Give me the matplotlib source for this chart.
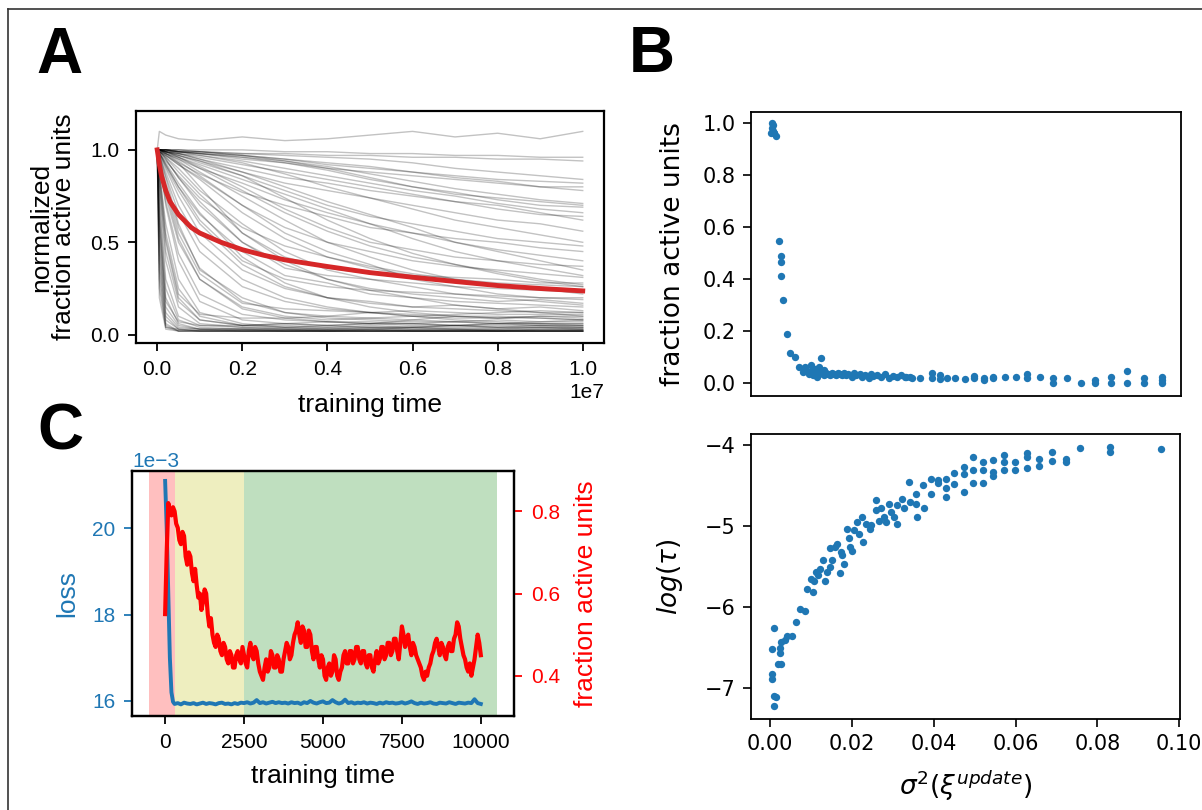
import matplotlib
matplotlib.use('Agg')
import matplotlib.pyplot as plt
from matplotlib.lines import Line2D
import numpy as np

# ---------------- Panel A data ----------------
trace_t = [0, 0.005, 0.02, 0.05, 0.1, 0.2, 0.3, 0.4, 0.5, 0.6, 0.7, 0.8, 0.9, 1.0]  # x 1e7
traces_A = [
    [1.0, 0.35, 0.05, 0.02, 0.02, 0.02, 0.02, 0.02, 0.02, 0.02, 0.02, 0.02, 0.02, 0.02],
    [1.0, 0.55, 0.12, 0.04, 0.03, 0.02, 0.02, 0.02, 0.02, 0.02, 0.02, 0.02, 0.02, 0.02],
    [1.0, 0.70, 0.25, 0.08, 0.04, 0.03, 0.03, 0.02, 0.03, 0.02, 0.02, 0.02, 0.02, 0.02],
    [1.0, 0.80, 0.40, 0.15, 0.06, 0.04, 0.03, 0.03, 0.04, 0.03, 0.03, 0.02, 0.03, 0.03],
    [1.0, 0.90, 0.55, 0.25, 0.10, 0.05, 0.04, 0.05, 0.04, 0.04, 0.05, 0.04, 0.04, 0.04],
    [1.0, 0.95, 0.70, 0.40, 0.18, 0.08, 0.06, 0.05, 0.06, 0.05, 0.05, 0.06, 0.05, 0.05],
    [1.0, 0.20, 0.03, 0.02, 0.02, 0.02, 0.02, 0.02, 0.02, 0.02, 0.02, 0.02, 0.02, 0.02],
    [1.0, 0.45, 0.08, 0.03, 0.02, 0.02, 0.02, 0.02, 0.02, 0.02, 0.02, 0.02, 0.02, 0.02],
    [1.0, 0.85, 0.50, 0.20, 0.08, 0.05, 0.06, 0.07, 0.06, 0.08, 0.07, 0.08, 0.07, 0.08],
    [1.0, 0.92, 0.75, 0.50, 0.30, 0.15, 0.10, 0.08, 0.09, 0.08, 0.10, 0.09, 0.10, 0.10],
    [1.0, 0.97, 0.85, 0.60, 0.35, 0.20, 0.12, 0.10, 0.12, 0.10, 0.11, 0.12, 0.13, 0.12],
    [1.0, 0.60, 0.15, 0.05, 0.03, 0.03, 0.02, 0.02, 0.02, 0.02, 0.02, 0.02, 0.02, 0.02],
    [1.0, 0.98, 0.90, 0.75, 0.55, 0.35, 0.25, 0.20, 0.18, 0.15, 0.16, 0.14, 0.15, 0.13],
    [1.0, 0.99, 0.92, 0.80, 0.65, 0.45, 0.32, 0.28, 0.22, 0.20, 0.18, 0.17, 0.16, 0.15],
    [1.0, 0.97, 0.88, 0.70, 0.50, 0.30, 0.20, 0.15, 0.12, 0.10, 0.08, 0.07, 0.06, 0.06],
    [1.0, 1.00, 0.95, 0.85, 0.70, 0.50, 0.38, 0.30, 0.25, 0.22, 0.20, 0.18, 0.19, 0.17],
    [1.0, 0.99, 0.96, 0.90, 0.78, 0.60, 0.45, 0.35, 0.30, 0.26, 0.22, 0.20, 0.18, 0.16],
    [1.0, 1.00, 0.97, 0.92, 0.85, 0.70, 0.55, 0.45, 0.38, 0.30, 0.26, 0.22, 0.20, 0.19],
    [1.0, 0.98, 0.93, 0.82, 0.66, 0.42, 0.28, 0.20, 0.15, 0.12, 0.10, 0.10, 0.09, 0.08],
    [1.0, 1.00, 0.98, 0.95, 0.88, 0.75, 0.62, 0.50, 0.42, 0.35, 0.30, 0.27, 0.25, 0.22],
    [1.0, 1.00, 0.98, 0.93, 0.80, 0.55, 0.40, 0.30, 0.24, 0.20, 0.16, 0.14, 0.12, 0.10],
    [1.0, 0.99, 0.95, 0.85, 0.72, 0.50, 0.36, 0.32, 0.30, 0.28, 0.26, 0.25, 0.24, 0.23],
    [1.0, 1.00, 1.00, 0.98, 0.95, 0.88, 0.80, 0.72, 0.65, 0.58, 0.50, 0.45, 0.40, 0.35],
    [1.0, 1.00, 0.99, 0.98, 0.96, 0.92, 0.88, 0.84, 0.80, 0.76, 0.72, 0.70, 0.66, 0.62],
    [1.0, 1.00, 1.00, 0.99, 0.98, 0.95, 0.93, 0.90, 0.88, 0.86, 0.84, 0.82, 0.80, 0.78],
    [1.0, 1.00, 0.98, 0.96, 0.92, 0.84, 0.76, 0.68, 0.60, 0.52, 0.45, 0.40, 0.36, 0.32],
    [1.0, 1.00, 0.99, 0.97, 0.93, 0.86, 0.78, 0.70, 0.64, 0.60, 0.56, 0.52, 0.50, 0.48],
    [1.0, 1.00, 1.00, 1.00, 0.99, 0.98, 0.97, 0.96, 0.95, 0.93, 0.90, 0.88, 0.86, 0.84],
    [1.0, 1.00, 1.00, 1.00, 1.00, 1.00, 0.99, 0.99, 0.98, 0.98, 0.97, 0.97, 0.96, 0.96],
    [1.0, 1.00, 0.99, 0.96, 0.90, 0.78, 0.66, 0.56, 0.48, 0.42, 0.38, 0.34, 0.30, 0.27],
    [1.0, 1.00, 1.00, 0.99, 0.97, 0.93, 0.87, 0.80, 0.74, 0.68, 0.62, 0.58, 0.54, 0.50],
    [1.0, 1.00, 1.00, 0.99, 0.98, 0.96, 0.94, 0.90, 0.85, 0.80, 0.76, 0.74, 0.72, 0.70],
    [1.0, 1.00, 0.99, 0.97, 0.94, 0.88, 0.82, 0.78, 0.74, 0.70, 0.66, 0.62, 0.60, 0.56],
    [1.0, 1.00, 1.00, 1.00, 0.99, 0.97, 0.95, 0.92, 0.90, 0.88, 0.85, 0.83, 0.80, 0.80],
    [1.0, 1.10, 1.08, 1.06, 1.05, 1.07, 1.05, 1.06, 1.08, 1.10, 1.07, 1.09, 1.06, 1.10],
    [1.0, 0.30, 0.04, 0.02, 0.02, 0.02, 0.02, 0.02, 0.02, 0.02, 0.02, 0.02, 0.02, 0.02],
    [1.0, 0.65, 0.20, 0.06, 0.03, 0.03, 0.03, 0.03, 0.03, 0.03, 0.03, 0.03, 0.03, 0.03],
    [1.0, 0.88, 0.60, 0.30, 0.12, 0.06, 0.04, 0.03, 0.03, 0.04, 0.03, 0.03, 0.04, 0.03],
    [1.0, 0.75, 0.30, 0.10, 0.05, 0.04, 0.04, 0.04, 0.04, 0.04, 0.04, 0.04, 0.04, 0.04],
    [1.0, 0.50, 0.10, 0.03, 0.02, 0.02, 0.02, 0.02, 0.02, 0.02, 0.02, 0.02, 0.02, 0.02],
    [1.0, 0.98, 0.94, 0.86, 0.74, 0.58, 0.48, 0.42, 0.37, 0.33, 0.30, 0.28, 0.27, 0.26],
    [1.0, 1.00, 0.99, 0.98, 0.95, 0.90, 0.85, 0.82, 0.78, 0.75, 0.72, 0.68, 0.65, 0.64],
    [1.0, 0.96, 0.82, 0.58, 0.36, 0.18, 0.12, 0.09, 0.08, 0.07, 0.07, 0.06, 0.06, 0.05],
    [1.0, 1.00, 1.00, 0.99, 0.99, 0.98, 0.98, 0.97, 0.97, 0.96, 0.96, 0.95, 0.95, 0.94],
    [1.0, 0.99, 0.97, 0.93, 0.87, 0.77, 0.70, 0.64, 0.58, 0.55, 0.52, 0.50, 0.47, 0.45],
    [1.0, 0.98, 0.92, 0.80, 0.62, 0.40, 0.30, 0.26, 0.24, 0.23, 0.22, 0.21, 0.20, 0.20],
    [1.0, 1.00, 0.99, 0.97, 0.94, 0.86, 0.74, 0.62, 0.52, 0.44, 0.38, 0.33, 0.29, 0.26],
    [1.0, 0.99, 0.96, 0.88, 0.76, 0.55, 0.42, 0.36, 0.33, 0.32, 0.31, 0.30, 0.28, 0.28],
    [1.0, 1.00, 1.00, 0.99, 0.98, 0.97, 0.95, 0.93, 0.91, 0.88, 0.86, 0.84, 0.83, 0.82],
    [1.0, 0.99, 0.98, 0.95, 0.90, 0.82, 0.73, 0.66, 0.60, 0.55, 0.50, 0.46, 0.43, 0.40],
    [1.0, 0.97, 0.86, 0.66, 0.45, 0.26, 0.18, 0.14, 0.12, 0.11, 0.10, 0.09, 0.09, 0.08],
    [1.0, 1.00, 0.99, 0.98, 0.97, 0.94, 0.90, 0.86, 0.82, 0.78, 0.75, 0.71, 0.68, 0.66],
    [1.0, 0.94, 0.78, 0.52, 0.30, 0.14, 0.09, 0.07, 0.06, 0.06, 0.05, 0.05, 0.05, 0.05],
    [1.0, 1.00, 0.98, 0.94, 0.86, 0.70, 0.58, 0.50, 0.45, 0.40, 0.37, 0.35, 0.33, 0.31],
    [1.0, 0.99, 0.97, 0.92, 0.84, 0.66, 0.52, 0.42, 0.36, 0.32, 0.29, 0.27, 0.25, 0.24],
    [1.0, 1.00, 1.00, 0.99, 0.99, 0.97, 0.94, 0.91, 0.87, 0.83, 0.79, 0.76, 0.73, 0.71],
    [1.0, 0.40, 0.06, 0.02, 0.02, 0.02, 0.02, 0.02, 0.02, 0.02, 0.02, 0.02, 0.02, 0.02],
    [1.0, 0.82, 0.45, 0.18, 0.08, 0.05, 0.05, 0.04, 0.05, 0.04, 0.05, 0.04, 0.05, 0.04],
    [1.0, 0.93, 0.72, 0.44, 0.22, 0.11, 0.08, 0.07, 0.07, 0.06, 0.07, 0.06, 0.07, 0.07],
    [1.0, 1.00, 0.99, 0.99, 0.98, 0.96, 0.93, 0.89, 0.84, 0.80, 0.77, 0.73, 0.70, 0.69],
    [1.0, 0.98, 0.91, 0.78, 0.60, 0.38, 0.26, 0.20, 0.17, 0.15, 0.14, 0.13, 0.12, 0.12],
    [1.0, 1.00, 0.99, 0.96, 0.91, 0.80, 0.68, 0.58, 0.50, 0.46, 0.42, 0.40, 0.38, 0.37],
    [1.0, 0.25, 0.04, 0.03, 0.03, 0.03, 0.03, 0.03, 0.03, 0.03, 0.03, 0.03, 0.03, 0.03],
    [1.0, 0.62, 0.18, 0.07, 0.05, 0.05, 0.06, 0.05, 0.06, 0.06, 0.05, 0.06, 0.06, 0.06],
    [1.0, 0.86, 0.52, 0.22, 0.11, 0.09, 0.09, 0.10, 0.09, 0.10, 0.09, 0.09, 0.10, 0.09],
    [1.0, 0.96, 0.80, 0.55, 0.33, 0.17, 0.14, 0.13, 0.12, 0.13, 0.12, 0.11, 0.11, 0.11],
]
mean_t = [0, 0.002, 0.005, 0.01, 0.02, 0.03, 0.05, 0.08, 0.1, 0.15, 0.2, 0.25, 0.3,
          0.4, 0.5, 0.6, 0.7, 0.8, 0.9, 1.0]  # x 1e7
mean_v = [1.0, 0.97, 0.92, 0.86, 0.78, 0.72, 0.65, 0.58, 0.55, 0.50, 0.46, 0.43, 0.405,
          0.369, 0.336, 0.311, 0.288, 0.266, 0.250, 0.237]

# ---------------- Panel B data ----------------
b_top_points = [
    (0.0004, 1.0), (0.0006, 0.992), (0.0004, 0.98), (0.0006, 0.97), (0.0001, 0.963),
    (0.0010, 0.963), (0.0013, 0.95), (0.0008, 0.96),
    (0.0022, 0.547), (0.0025, 0.488), (0.0025, 0.466), (0.0025, 0.411), (0.0032, 0.319),
    (0.0041, 0.187), (0.0049, 0.114), (0.0060, 0.101), (0.0070, 0.063), (0.0079, 0.044),
    (0.0123, 0.097),
    (0.0085, 0.060), (0.0090, 0.045), (0.0095, 0.035), (0.0100, 0.070), (0.0102, 0.050),
    (0.0105, 0.030), (0.0110, 0.055), (0.0112, 0.040), (0.0115, 0.025), (0.0120, 0.060),
    (0.0118, 0.035), (0.0125, 0.045), (0.0130, 0.030), (0.0130, 0.050), (0.0135, 0.040),
    (0.0140, 0.035), (0.0145, 0.030), (0.0150, 0.040), (0.0155, 0.035), (0.0160, 0.030),
    (0.0165, 0.040), (0.0170, 0.035), (0.0175, 0.030), (0.0180, 0.038), (0.0185, 0.030),
    (0.0190, 0.033), (0.0200, 0.025), (0.0205, 0.040), (0.0210, 0.030), (0.0220, 0.035),
    (0.0225, 0.025), (0.0230, 0.030), (0.0240, 0.020), (0.0245, 0.035), (0.0250, 0.028),
    (0.0260, 0.030), (0.0270, 0.025), (0.0280, 0.035), (0.0290, 0.020), (0.0300, 0.028),
    (0.0310, 0.025), (0.0320, 0.030), (0.0330, 0.022), (0.0340, 0.025),
    (0.0328, 0.025), (0.0347, 0.020), (0.0366, 0.020), (0.0394, 0.039), (0.0394, 0.018),
    (0.0413, 0.030), (0.0413, 0.015), (0.0431, 0.020), (0.0450, 0.020), (0.0474, 0.015),
    (0.0497, 0.028), (0.0497, 0.020), (0.0521, 0.012), (0.0521, 0.020), (0.0544, 0.025),
    (0.0544, 0.018), (0.0572, 0.025), (0.0599, 0.022), (0.0627, 0.035), (0.0627, 0.020),
    (0.0657, 0.022), (0.0690, 0.020), (0.0690, 0.000), (0.0723, 0.020), (0.0757, 0.000),
    (0.0793, 0.012), (0.0793, 0.000), (0.0831, 0.022), (0.0831, 0.000), (0.0871, 0.048),
    (0.0871, 0.000), (0.0913, 0.020), (0.0913, 0.000), (0.0956, 0.025), (0.0956, 0.000),
    (0.0956, 0.010),
]
b_bot_points = [
    (0.0008, -6.26), (0.0004, -6.52), (0.0004, -6.83), (0.0004, -6.88), (0.0010, -7.10),
    (0.0015, -7.11), (0.0008, -7.22), (0.0023, -6.57), (0.0025, -6.50), (0.0027, -6.43),
    (0.0035, -6.40), (0.0041, -6.36), (0.0053, -6.35), (0.0027, -6.70), (0.0020, -6.70),
    (0.0063, -6.18), (0.0072, -6.02), (0.0084, -6.05), (0.0090, -5.78), (0.0105, -5.81),
    (0.0100, -5.65), (0.0107, -5.67), (0.0112, -5.56), (0.0117, -5.60), (0.0121, -5.53),
    (0.0128, -5.42), (0.0135, -5.67), (0.0140, -5.56), (0.0147, -5.27), (0.0150, -5.42),
    (0.0145, -5.50), (0.0159, -5.26), (0.0164, -5.22), (0.0170, -5.58), (0.0173, -5.32),
    (0.0176, -5.36), (0.0180, -5.46), (0.0187, -5.03), (0.0192, -5.15), (0.0196, -5.26),
    (0.0201, -5.30), (0.0204, -5.05), (0.0213, -4.95), (0.0217, -5.09), (0.0225, -4.88),
    (0.0227, -5.19), (0.0234, -4.97), (0.0243, -5.03), (0.0246, -4.98), (0.0258, -4.67),
    (0.0258, -4.80), (0.0267, -4.93), (0.0272, -4.78), (0.0279, -4.89), (0.0283, -4.95),
    (0.0290, -4.72), (0.0295, -4.82), (0.0302, -4.88), (0.0309, -4.97), (0.0311, -4.74),
    (0.0323, -4.66), (0.0326, -4.78), (0.0340, -4.45), (0.0342, -4.70), (0.0356, -4.60),
    (0.0358, -4.89), (0.0356, -4.72), (0.0373, -4.49), (0.0375, -4.77), (0.0392, -4.42),
    (0.0392, -4.60), (0.0411, -4.43), (0.0411, -4.47), (0.0431, -4.42), (0.0431, -4.53),
    (0.0431, -4.64), (0.0450, -4.34), (0.0450, -4.48), (0.0474, -4.27), (0.0474, -4.35),
    (0.0474, -4.58), (0.0497, -4.14), (0.0497, -4.31), (0.0497, -4.47), (0.0521, -4.20),
    (0.0521, -4.30), (0.0521, -4.47), (0.0544, -4.18), (0.0544, -4.33), (0.0544, -4.38),
    (0.0571, -4.12), (0.0571, -4.21), (0.0571, -4.30), (0.0599, -4.20), (0.0599, -4.30),
    (0.0627, -4.10), (0.0627, -4.14), (0.0627, -4.28), (0.0657, -4.17), (0.0657, -4.26),
    (0.0690, -4.08), (0.0690, -4.19), (0.0723, -4.17), (0.0723, -4.20), (0.0757, -4.03),
    (0.0831, -4.02), (0.0831, -4.08), (0.0956, -4.04),
]

# ---------------- Panel C data ----------------
loss_t = [0, 50, 100, 150, 200, 250] + list(range(300, 10001, 100))
loss_v = [21.10, 20.00, 18.50, 17.00, 16.20, 15.98,
          15.93, 15.95, 15.92, 15.96, 15.94, 15.93, 15.95, 15.92, 15.94, 15.96,
          15.93, 15.95, 15.94, 15.92, 15.95, 15.96, 15.93, 15.94, 15.92, 15.95,
          15.93, 15.96, 15.95, 15.97, 15.94, 15.96, 16.02, 15.95, 15.97, 15.94,
          15.96, 15.98, 15.95, 15.97, 15.95, 15.96, 15.94, 15.97, 15.95, 15.96,
          15.93, 15.97, 15.95, 16.00, 15.96, 15.94, 15.97, 15.99, 15.95, 15.96,
          16.02, 15.97, 15.94, 15.96, 16.03, 15.95, 15.97, 15.94, 15.96, 15.95,
          15.97, 15.94, 15.96, 15.95, 15.93, 15.96, 15.94, 15.97, 15.95, 15.96,
          15.94, 15.95, 15.97, 15.94, 15.96, 15.99, 15.95, 15.93, 15.96, 15.94,
          15.95, 15.97, 15.94, 15.93, 15.96, 15.95, 15.94, 15.97, 15.95, 15.93,
          15.96, 15.95, 15.94, 15.96, 15.95, 16.04, 15.95, 15.93]
frac_t = list(range(0, 10001, 50))
frac_v = [0.55, 0.70, 0.82, 0.80, 0.79, 0.81, 0.80, 0.77, 0.76, 0.73,
          0.72, 0.75, 0.74, 0.69, 0.67, 0.70, 0.69, 0.65, 0.63, 0.66,
          0.62, 0.59, 0.60, 0.56, 0.58, 0.61, 0.60, 0.55, 0.52, 0.54,
          0.50, 0.48, 0.47, 0.50, 0.49, 0.46, 0.45, 0.48, 0.47, 0.44,
          0.43, 0.46, 0.45, 0.42, 0.42, 0.45, 0.46, 0.44, 0.43, 0.47,
          0.45, 0.43, 0.42, 0.46, 0.48, 0.45, 0.44, 0.47, 0.46, 0.43,
          0.41, 0.40, 0.39, 0.42, 0.44, 0.41, 0.42, 0.46, 0.45, 0.42,
          0.42, 0.45, 0.44, 0.41, 0.41, 0.44, 0.46, 0.48, 0.47, 0.44,
          0.45, 0.48, 0.50, 0.51, 0.53, 0.50, 0.48, 0.52, 0.51, 0.47,
          0.47, 0.51, 0.50, 0.46, 0.44, 0.47, 0.47, 0.44, 0.42, 0.45,
          0.44, 0.40, 0.39, 0.42, 0.43, 0.40, 0.41, 0.45, 0.44, 0.40,
          0.39, 0.41, 0.42, 0.45, 0.46, 0.43, 0.43, 0.46, 0.46, 0.43,
          0.44, 0.47, 0.47, 0.44, 0.43, 0.46, 0.46, 0.43, 0.42, 0.45,
          0.45, 0.42, 0.41, 0.44, 0.46, 0.43, 0.44, 0.47, 0.47, 0.44,
          0.45, 0.48, 0.48, 0.45, 0.46, 0.49, 0.49, 0.46, 0.44, 0.48,
          0.52, 0.50, 0.47, 0.49, 0.50, 0.47, 0.45, 0.48, 0.47, 0.45,
          0.44, 0.43, 0.42, 0.40, 0.39, 0.41, 0.40, 0.42, 0.43, 0.45,
          0.46, 0.48, 0.49, 0.47, 0.45, 0.48, 0.47, 0.45, 0.44, 0.47,
          0.48, 0.46, 0.46, 0.49, 0.50, 0.53, 0.52, 0.49, 0.47, 0.45,
          0.44, 0.42, 0.41, 0.43, 0.40, 0.42, 0.44, 0.47, 0.50, 0.48,
          0.45]
phase_edges = [-500, 300, 2500, 10500]
phase_colors = ['r', 'y', 'g']

# ---------------- Figure ----------------
ARIAL = 'Liberation Sans'
BLUE = '#1f77b4'
fig = plt.figure(figsize=(12.02, 8.10), dpi=100)

# outer frame lines
fig.add_artist(Line2D([8 / 1202, 1.0], [1 - 9 / 810, 1 - 9 / 810], color='#333333', lw=1.2,
                      transform=fig.transFigure))
fig.add_artist(Line2D([8 / 1202, 8 / 1202], [1 - 9 / 810, 0.0], color='#333333', lw=1.2,
                      transform=fig.transFigure))

# Panel A
axA = fig.add_axes([0.1131, 0.5765, 0.3894, 0.2864])
tA = np.array(trace_t) * 1e7
for tr in traces_A:
    axA.plot(tA, tr, color='k', alpha=0.24, lw=1.0)
axA.plot(np.array(mean_t) * 1e7, mean_v, color='#d62728', lw=3.5)
axA.set_xlim(-0.05e7, 1.05e7)
axA.set_ylim(-0.045, 1.21)
axA.set_xticks([0, 0.2e7, 0.4e7, 0.6e7, 0.8e7, 1.0e7])
axA.set_yticks([0.0, 0.5, 1.0])
axA.tick_params(labelsize=15, labelfontfamily=ARIAL, length=6, width=1.3, pad=6)
axA.xaxis.offsetText.set_fontfamily(ARIAL)
axA.xaxis.offsetText.set_fontsize(15)
axA.set_xlabel('training time', fontsize=19, fontfamily=ARIAL, labelpad=10)
axA.set_ylabel('normalized\nfraction active units', fontsize=19, fontfamily=ARIAL,
               linespacing=0.95, labelpad=10)
for s in axA.spines.values():
    s.set_linewidth(1.6)

# Panel B top
bx_top = [p[0] for p in b_top_points]
by_top = [p[1] for p in b_top_points]
axB1 = fig.add_axes([0.6248, 0.5111, 0.3577, 0.3506])
axB1.scatter(bx_top, by_top, s=28, color=BLUE, linewidths=0)
axB1.set_xlim(-0.0047, 0.1002)
axB1.set_ylim(-0.05, 1.042)
axB1.set_yticks([0.0, 0.2, 0.4, 0.6, 0.8, 1.0])
axB1.tick_params(axis='x', bottom=False, labelbottom=False)
axB1.tick_params(axis='y', labelsize=15, length=6, width=1.2, pad=5)
axB1.set_ylabel('fraction active units', fontsize=19, labelpad=12)
for s in axB1.spines.values():
    s.set_linewidth(1.3)

# Panel B bottom
bx_bot = [p[0] for p in b_bot_points]
by_bot = [p[1] for p in b_bot_points]
axB2 = fig.add_axes([0.6248, 0.1123, 0.3569, 0.3519])
axB2.scatter(bx_bot, by_bot, s=28, color=BLUE, linewidths=0)
axB2.set_xlim(-0.0047, 0.1002)
axB2.set_ylim(-7.38, -3.86)
axB2.set_xticks([0.0, 0.02, 0.04, 0.06, 0.08, 0.10])
axB2.set_xticklabels(['0.00', '0.02', '0.04', '0.06', '0.08', '0.10'])
axB2.set_yticks([-7, -6, -5, -4])
axB2.tick_params(labelsize=15, length=6, width=1.2, pad=5)
axB2.set_xlabel(r'$\sigma^2(\xi^{update})$', fontsize=19, labelpad=10)
axB2.set_ylabel(r'$log(\tau)$', fontsize=19, labelpad=14)
for s in axB2.spines.values():
    s.set_linewidth(1.3)

# Panel C
axC = fig.add_axes([0.1098, 0.1160, 0.3178, 0.3025])
for i, c in enumerate(phase_colors):
    axC.axvspan(phase_edges[i], phase_edges[i + 1], color=c, alpha=0.25, lw=0)
axC.plot(loss_t, np.array(loss_v) * 1e-3, color=BLUE, lw=2.8)
axC.set_xlim(-1050, 11050)
axC.set_ylim(15.65e-3, 21.33e-3)
axC.set_yticks([16e-3, 18e-3, 20e-3])
axC.set_xticks([0, 2500, 5000, 7500, 10000])
axC.ticklabel_format(axis='y', style='sci', scilimits=(-3, -3))
axC.tick_params(labelsize=15, labelfontfamily=ARIAL, length=6, width=1.3, pad=6)
axC.tick_params(axis='y', colors=BLUE)
axC.yaxis.offsetText.set_fontfamily(ARIAL)
axC.yaxis.offsetText.set_fontsize(15)
axC.yaxis.offsetText.set_color(BLUE)
axC.set_xlabel('training time', fontsize=19, fontfamily=ARIAL, labelpad=9)
axC.set_ylabel('loss', fontsize=19, fontfamily=ARIAL, color=BLUE, labelpad=9)

axC2 = axC.twinx()
axC2.plot(frac_t, frac_v, color='red', lw=3.0)
axC2.set_ylim(0.302, 0.898)
axC2.set_yticks([0.4, 0.6, 0.8])
axC2.tick_params(labelsize=15, labelfontfamily=ARIAL, length=6, width=1.3, pad=6,
                 colors='red')
axC2.set_ylabel('fraction active units', fontsize=19, fontfamily=ARIAL, color='red',
                labelpad=10)
for ax in (axC, axC2):
    for s in ax.spines.values():
        s.set_linewidth(1.6)
        s.set_color('black')

# Panel letters
fig.text(36 / 1202, 1 - 73 / 810, 'A', fontsize=46, fontweight='bold', fontfamily=ARIAL,
         ha='left', va='baseline')
fig.text(629 / 1202, 1 - 72 / 810, 'B', fontsize=46, fontweight='bold', fontfamily=ARIAL,
         ha='left', va='baseline')
fig.text(37 / 1202, 1 - 450 / 810, 'C', fontsize=46, fontweight='bold', fontfamily=ARIAL,
         ha='left', va='baseline')

fig.savefig('out.png', dpi=100)
